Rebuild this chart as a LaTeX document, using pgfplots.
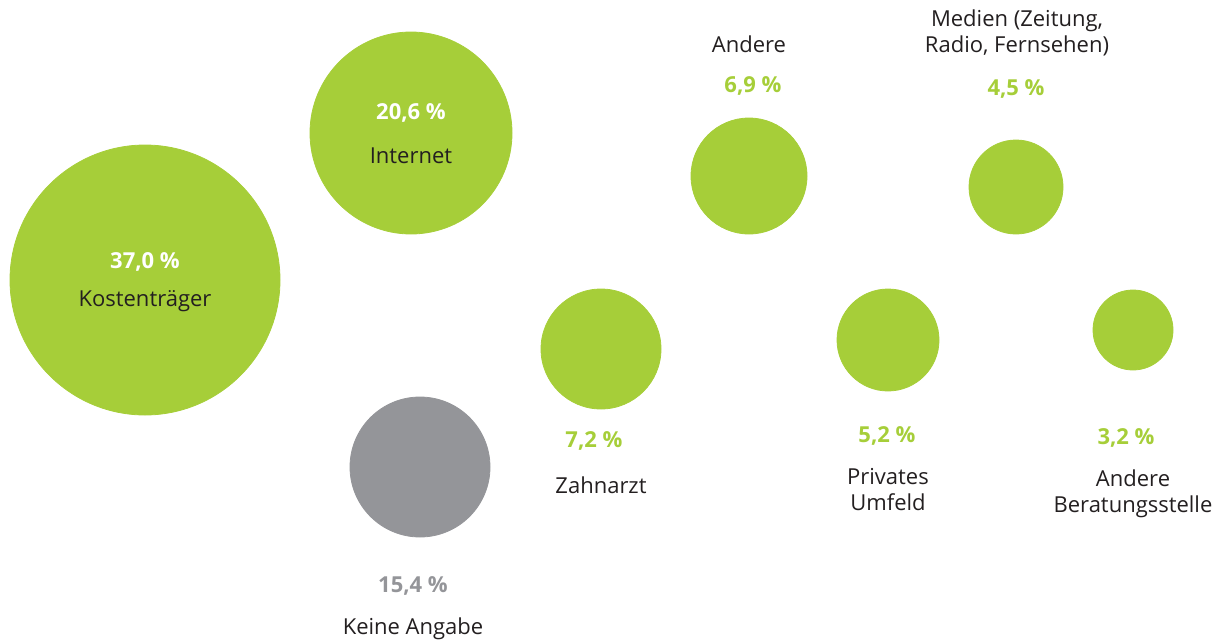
\documentclass[border=0pt]{standalone}
\usepackage{pgfplots}
\pgfplotsset{compat=1.18}
\usepackage{fontspec}
\setmainfont{Open Sans}
\definecolor{bgreen}{HTML}{A6CE39}
\definecolor{bgray}{HTML}{949599}
\definecolor{txt}{HTML}{231F20}
\tikzset{
  lab/.style={font=\fontsize{11}{13}\selectfont, align=center, text=txt},
  pct/.style={font=\fontsize{11}{13}\selectfont\bfseries, align=center},
}
\begin{document}
\begin{tikzpicture}
\begin{axis}[
    width=612.5pt, height=321.5pt,
    scale only axis,
    xmin=0, xmax=1225, ymin=0, ymax=643,
    y dir=reverse,
    axis lines=none,
    clip=false,
]
% bubbles: x, y in pixel units; mark size = radius/2 pt
\addplot[only marks, mark=*, color=bgreen, mark size=67.5pt] coordinates {(145,280)};
\addplot[only marks, mark=*, color=bgreen, mark size=50.5pt] coordinates {(411,133)};
\addplot[only marks, mark=*, color=bgray, mark size=35pt] coordinates {(420,467)};
\addplot[only marks, mark=*, color=bgreen, mark size=30pt] coordinates {(601,349)};
\addplot[only marks, mark=*, color=bgreen, mark size=29pt] coordinates {(749,176)};
\addplot[only marks, mark=*, color=bgreen, mark size=25.5pt] coordinates {(888,340)};
\addplot[only marks, mark=*, color=bgreen, mark size=23.5pt] coordinates {(1016,187)};
\addplot[only marks, mark=*, color=bgreen, mark size=20pt] coordinates {(1133,330)};

% label positions
\coordinate (p1) at (axis cs:145,262);   \coordinate (l1) at (axis cs:145,301);
\coordinate (p2) at (axis cs:411,113);   \coordinate (l2) at (axis cs:411,156);
\coordinate (l3) at (axis cs:749,44);    \coordinate (p3) at (axis cs:753,86);
\coordinate (l4) at (axis cs:1017,33);   \coordinate (p4) at (axis cs:1016,89);
\coordinate (p5) at (axis cs:594,441);   \coordinate (l5) at (axis cs:601,485);
\coordinate (p6) at (axis cs:887,436);   \coordinate (l6) at (axis cs:888,490);
\coordinate (p7) at (axis cs:1126,438);  \coordinate (l7) at (axis cs:1133,494);
\coordinate (p8) at (axis cs:413,586);   \coordinate (l8) at (axis cs:413,629);
\coordinate (bb1) at (axis cs:0,0);      \coordinate (bb2) at (axis cs:1225,643);
\end{axis}
\useasboundingbox (bb1) rectangle (bb2);
\node[pct, text=white] at (p1) {37,0 \%};
\node[lab] at (l1) {Kostenträger};
\node[pct, text=white] at (p2) {20,6 \%};
\node[lab] at (l2) {Internet};
\node[lab] at (l3) {Andere};
\node[pct, text=bgreen] at (p3) {6,9 \%};
\node[lab] at (l4) {Medien (Zeitung,\\Radio, Fernsehen)};
\node[pct, text=bgreen] at (p4) {4,5 \%};
\node[pct, text=bgreen] at (p5) {7,2 \%};
\node[lab] at (l5) {Zahnarzt};
\node[pct, text=bgreen] at (p6) {5,2 \%};
\node[lab] at (l6) {Privates\\Umfeld};
\node[pct, text=bgreen] at (p7) {3,2 \%};
\node[lab] at (l7) {Andere\\Beratungsstelle};
\node[pct, text=bgray] at (p8) {15,4 \%};
\node[lab] at (l8) {Keine Angabe};
\end{tikzpicture}
\end{document}
